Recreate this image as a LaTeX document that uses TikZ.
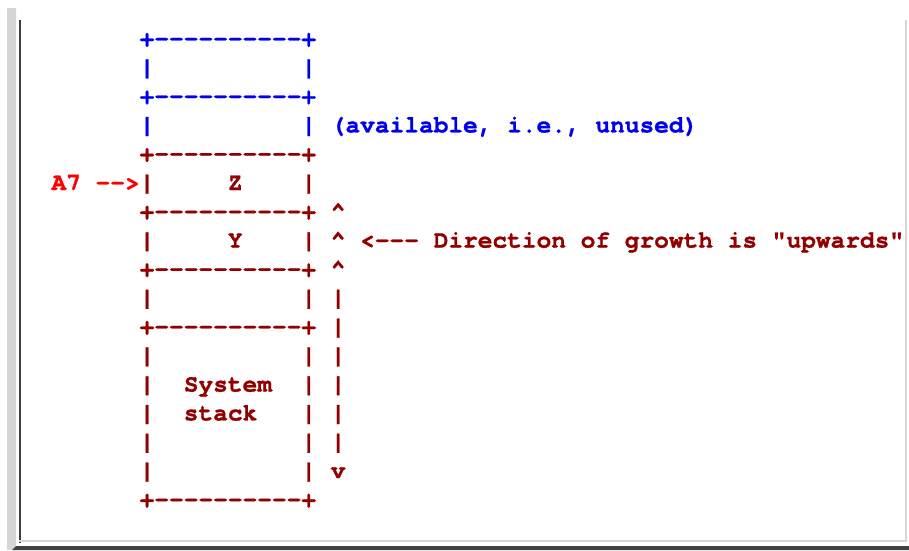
\documentclass[tikz,border=0pt]{standalone}
\usepackage{fontspec}
\setmonofont{texgyrecursor}[Extension=.otf, UprightFont=*-regular, BoldFont=*-bold, BoldFeatures={FakeBold=1}]
\definecolor{memblue}{HTML}{0000F0}
\definecolor{stackred}{HTML}{930000}
\definecolor{ptrred}{HTML}{FF0000}
\definecolor{panelgray}{HTML}{D6D6D6}
\definecolor{edgedark}{HTML}{404040}
\tikzset{
  ascii/.style={font=\ttfamily\bfseries\fontsize{24.5}{24.5}\selectfont,
    anchor=base west, inner sep=0pt, outer sep=0pt},
  free/.style={ascii, text=memblue},
  used/.style={ascii, text=stackred},
  ptr/.style={ascii, text=ptrred},
}
% column / row grid of the monospaced layout
\newcommand{\cell}[2]{({51.5+#1*14.7},{46+#2*28.8})}
\begin{document}
\begin{tikzpicture}[x=1pt,y=-1pt]
\useasboundingbox (0,0) rectangle (909,550);
% window frame
\fill[panelgray] (7,8) -- (16,8) -- (16,546) -- (12,550) -- (7,550) -- cycle;
\fill[edgedark] (19,20) rectangle (21,543);
\fill[panelgray] (19,540) rectangle (907,542);
\fill[panelgray] (905,20) rectangle (907,542);
\fill[edgedark] (16,546) -- (909,546) -- (909,550) -- (12,550) -- cycle;

% unused region (blue)
\node[free] (r0) at \cell{6}{0} {+----------+};
\node[free] (r1l) at \cell{6}{1} {|};
\node[free] (r1r) at \cell{17}{1} {|};
\node[free] (r2) at \cell{6}{2} {+----------+};
\node[free] (r3l) at \cell{6}{3} {|};
\node[free] (r3r) at \cell{17}{3} {|};
\node[free] (avail) at \cell{19}{3} {(available, i.e., unused)};

% stack in use (dark red)
\node[used] (r4) at \cell{6}{4} {+----------+};
\node[ptr] (a7) at \cell{0}{5} {A7 -->};
\node[used] (r5l) at \cell{6}{5} {|};
\node[used] (z) at \cell{12}{5} {Z};
\node[used] (r5r) at \cell{17}{5} {|};
\node[used] (r6) at \cell{6}{6} {+----------+};
\node[used] (up1) at \cell{19}{6} {\textasciicircum};
\node[used] (r7l) at \cell{6}{7} {|};
\node[used] (y) at \cell{12}{7} {Y};
\node[used] (r7r) at \cell{17}{7} {|};
\node[used] (up2) at \cell{19}{7} {\textasciicircum};
\node[used] (dir) at \cell{21}{7} {<--- Direction of growth is "upwards"};
\node[used] (r8) at \cell{6}{8} {+----------+};
\node[used] (up3) at \cell{19}{8} {\textasciicircum};
\node[used] (r9l) at \cell{6}{9} {|};
\node[used] (r9r) at \cell{17}{9} {|};
\node[used] (a9) at \cell{19}{9} {|};
\node[used] (r10) at \cell{6}{10} {+----------+};
\node[used] (a10) at \cell{19}{10} {|};
\foreach \r in {11,...,15} {
  \node[used] (l\r) at \cell{6}{\r} {|};
  \node[used] (rr\r) at \cell{17}{\r} {|};
}
\foreach \r in {11,...,14} {
  \node[used] (a\r) at \cell{19}{\r} {|};
}
\node[used] (sys) at \cell{9}{12} {System};
\node[used] (stk) at \cell{9}{13} {stack};
\node[used] (down) at \cell{19}{15} {v};
\node[used] (r16) at \cell{6}{16} {+----------+};
\end{tikzpicture}
\end{document}
